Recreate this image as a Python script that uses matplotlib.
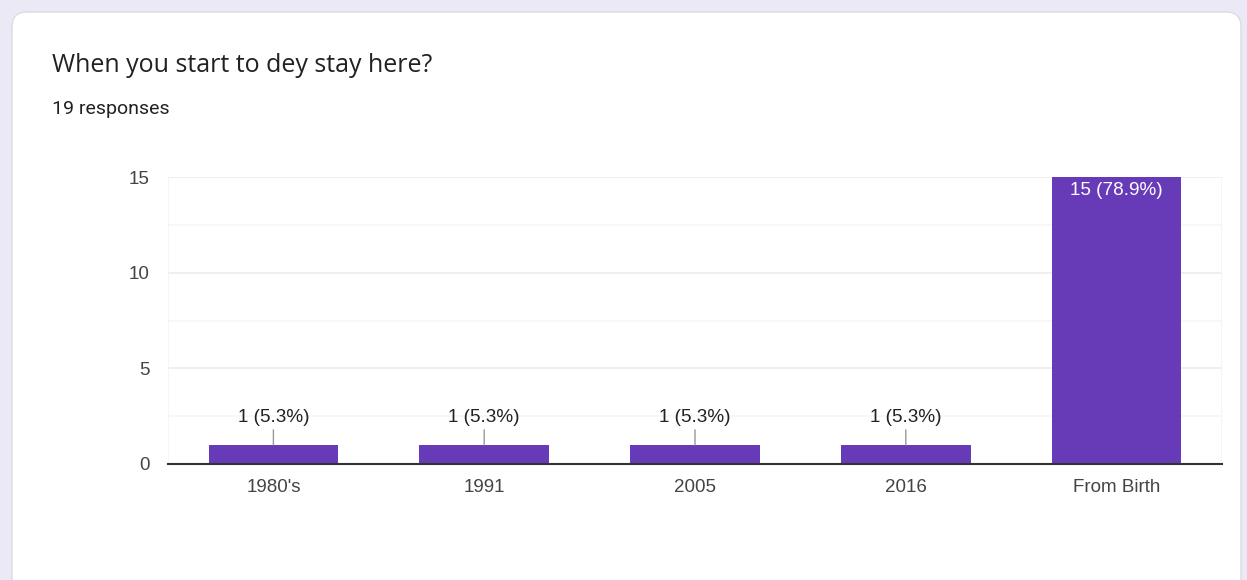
import matplotlib.pyplot as plt
from matplotlib.patches import FancyBboxPatch

categories = ["1980's", "1991", "2005", "2016", "From Birth"]
counts = [1, 1, 1, 1, 15]
total = 19
title = "When you start to dey stay here?"
subtitle = "19 responses"

W, H = 1247, 580
fig = plt.figure(figsize=(W / 100, H / 100), dpi=100)
fig.patch.set_facecolor("#ece9f6")

# white card with rounded corners, kept behind the axes
card = FancyBboxPatch((12 / W, -20 / H), 1229 / W, (H - 12 + 20) / H,
                      boxstyle="round,pad=0,rounding_size=0.012",
                      transform=fig.transFigure, facecolor="white",
                      edgecolor="#dadce0", linewidth=1, mutation_aspect=W / H,
                      zorder=-10)
fig.patches.append(card)

fig.text(52 / W, 1 - 65 / H, title, fontsize=18, color="#202124",
         family="Open Sans", va="center", ha="left")
fig.text(52 / W, 1 - 109 / H, subtitle, fontsize=14, color="#202124",
         family="Roboto", va="center", ha="left")

ax = fig.add_axes([168 / W, (H - 464) / H, 1054 / W, 287 / H])
ax.set_facecolor("white")
ax.set_xlim(-0.5, len(categories) - 0.5)
ax.set_ylim(0, 15)

# major and minor gridlines
for y in [2.5, 5, 7.5, 10, 12.5, 15]:
    ax.axhline(y, color="#ececec" if y % 5 == 0 else "#f6f6f6", lw=1.2, zorder=0)
ax.axvline(-0.5, color="#f3f3f3", lw=1.2, zorder=0)
ax.axvline(len(categories) - 0.5, color="#f3f3f3", lw=1.2, zorder=0)

x = range(len(categories))
ax.bar(x, counts, width=0.615, color="#673ab7", zorder=2)

for i, c in enumerate(counts):
    label = f"{c} ({c / total * 100:.1f}%)"
    if c == max(counts):
        ax.annotate(label, (i, c), xytext=(0, -10), textcoords="offset points",
                    ha="center", va="center", fontsize=13.6, color="white",
                    family="Liberation Sans", zorder=3)
    else:
        ax.annotate(label, (i, c), xytext=(0, 20), textcoords="offset points",
                    ha="center", va="center", fontsize=13.6, color="#222222",
                    family="Liberation Sans", zorder=3,
                    arrowprops=dict(arrowstyle="-", color="#999999", lw=1,
                                    shrinkA=1, shrinkB=0))

for s in ["top", "right", "left"]:
    ax.spines[s].set_visible(False)
ax.spines["bottom"].set_color("#333333")
ax.spines["bottom"].set_linewidth(1.5)
ax.spines["bottom"].set_zorder(4)

ax.set_yticks([0, 5, 10, 15])
ax.set_xticks(list(x))
ax.set_xticklabels(categories)
ax.tick_params(axis="both", length=0, labelsize=13.5, labelcolor="#444444")
ax.tick_params(axis="y", pad=13)
ax.tick_params(axis="x", pad=11)
for lab in ax.get_xticklabels() + ax.get_yticklabels():
    lab.set_family("Liberation Sans")

plt.savefig("out.png", dpi=100, facecolor=fig.get_facecolor())
